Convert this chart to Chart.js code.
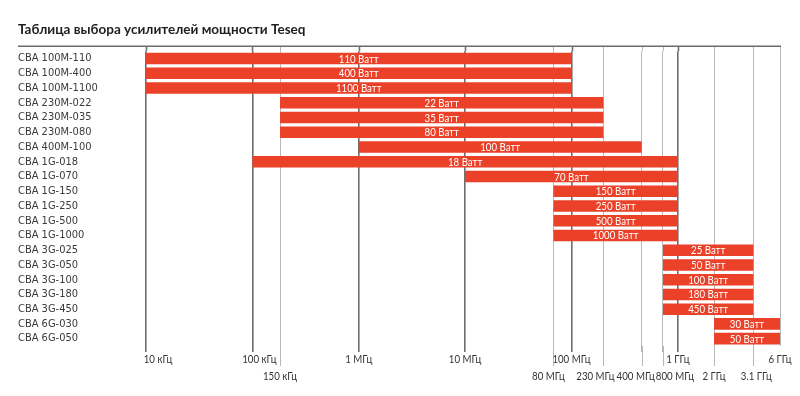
<!DOCTYPE html>
<html>
<head>
<meta charset="utf-8">
<script src="https://cdn.jsdelivr.net/npm/chart.js@4.4.1/dist/chart.umd.min.js"></script>
<style>
  html, body { margin: 0; background: #fff; }
  #wrap { width: 800px; height: 396px; }
</style>
</head>
<body>
<div id="wrap"><canvas id="ampChart"></canvas></div>
<script>
const models = ['CBA 100M-110', 'CBA 100M-400', 'CBA 100M-1100', 'CBA 230M-022', 'CBA 230M-035',
  'CBA 230M-080', 'CBA 400M-100', 'CBA 1G-018', 'CBA 1G-070', 'CBA 1G-150', 'CBA 1G-250',
  'CBA 1G-500', 'CBA 1G-1000', 'CBA 3G-025', 'CBA 3G-050', 'CBA 3G-100', 'CBA 3G-180',
  'CBA 3G-450', 'CBA 6G-030', 'CBA 6G-050'];
// частоты в Гц
const startFreq = [1e4, 1e4, 1e4, 1.5e5, 1.5e5, 1.5e5, 1e6, 1e5, 1e7, 8e7, 8e7, 8e7, 8e7,
  8e8, 8e8, 8e8, 8e8, 8e8, 2e9, 2e9];
const endFreq = [1e8, 1e8, 1e8, 2.3e8, 2.3e8, 2.3e8, 4e8, 1e9, 1e9, 1e9, 1e9, 1e9, 1e9,
  3.1e9, 3.1e9, 3.1e9, 3.1e9, 3.1e9, 6e9, 6e9];
const powerW = [110, 400, 1100, 22, 35, 80, 100, 18, 70, 150, 250, 500, 1000, 25, 50, 100, 180, 450, 30, 50];

const tickFreq = [1e4, 1e5, 1.5e5, 1e6, 1e7, 8e7, 1e8, 2.3e8, 4e8, 8e8, 1e9, 2e9, 3.1e9, 6e9];
const tickLabel = ['10 кГц', '100 кГц', '150 кГц', '1 МГц', '10 МГц', '80 МГц', '100 МГц',
  '230 МГц', '400 МГц', '800 МГц', '1 ГГц', '2 ГГц', '3.1 ГГц', '6 ГГц'];
const topRow = [1e4, 1e5, 1e6, 1e7, 1e8, 1e9, 6e9];
const decades = [1e4, 1e5, 1e6, 1e7, 1e8, 1e9];

// the printed axis is not a true log axis: where each tick sits, in decades from 10 kHz
const tickPlace = [0, 1, 1.26, 2, 3, 3.83, 4, 4.3, 4.66, 4.86, 5, 5.34, 5.71, 5.96];
// small sideways shifts of the tick captions so they don't collide
const labelNudge = { '10 кГц': 12, '100 кГц': 7, '80 МГц': -5, '230 МГц': -8, '400 МГц': -6, '800 МГц': 12, '3.1 ГГц': 3 };

const logStops = tickFreq.map(Math.log10);

function place(v) {
  const l = Math.log10(v);
  let i = 0;
  while (i < logStops.length - 2 && l > logStops[i + 1]) i++;
  const t = (l - logStops[i]) / (logStops[i + 1] - logStops[i]);
  return tickPlace[i] + t * (tickPlace[i + 1] - tickPlace[i]);
}

function unplace(p) {
  let i = 0;
  while (i < tickPlace.length - 2 && p > tickPlace[i + 1]) i++;
  const t = (p - tickPlace[i]) / (tickPlace[i + 1] - tickPlace[i]);
  return Math.pow(10, logStops[i] + t * (logStops[i + 1] - logStops[i]));
}

class StretchedLogScale extends Chart.LogarithmicScale {
  static id = 'stretchedLog';
  static defaults = {};
  getPixelForValue(value) {
    if (value === null || value === undefined || isNaN(value)) return NaN;
    return this.getPixelForDecimal(place(value) / tickPlace[tickPlace.length - 1]);
  }
  getValueForPixel(pixel) {
    return unplace(this.getDecimalForPixel(pixel) * tickPlace[tickPlace.length - 1]);
  }
}
Chart.register(StretchedLogScale);

const FONT = 'Lato, "Open Sans", sans-serif';
const NARROW = '"Liberation Sans Narrow", "DejaVu Sans Condensed", Lato, sans-serif';
const BAR_RED = '#ea4128';
const DARK_LINE = '#6e6e6e';
const LIGHT_LINE = '#b8b8b8';

const isDecade = i => decades.includes(tickFreq[i]);

// the original uses a narrow face, so squeeze Lato a little
function narrowText(ctx, text, x, y) {
  ctx.save();
  ctx.translate(x, y);
  ctx.scale(0.88, 1);
  ctx.fillText(text, 0, 0);
  ctx.restore();
}

const axisExtras = {
  id: 'axisExtras',
  beforeDatasetsDraw(chart) {
    const { ctx, chartArea } = chart;
    const x = chart.scales.x;
    const lineY = chartArea.top - 5;
    ctx.save();
    tickFreq.forEach((f, i) => {
      const px = Math.round(x.getPixelForValue(f)) + 0.5;
      ctx.strokeStyle = isDecade(i) ? DARK_LINE : LIGHT_LINE;
      ctx.lineWidth = isDecade(i) ? 1.6 : 1;
      ctx.beginPath();
      ctx.moveTo(px, lineY);
      ctx.lineTo(px, chartArea.top);
      if (!topRow.includes(f)) {
        ctx.moveTo(px, chartArea.bottom);
        ctx.lineTo(px, chartArea.bottom + 20);
      }
      ctx.stroke();
    });
    ctx.strokeStyle = '#6a6a6a';
    ctx.lineWidth = 1.5;
    ctx.beginPath();
    ctx.moveTo(18, lineY);
    ctx.lineTo(chartArea.right + 1, lineY);
    ctx.stroke();
    ctx.restore();
  },
  afterDraw(chart) {
    const { ctx, chartArea } = chart;
    const x = chart.scales.x;
    ctx.save();
    ctx.font = '11px ' + FONT;
    ctx.fillStyle = '#333';
    ctx.textAlign = 'center';
    ctx.textBaseline = 'middle';
    tickFreq.forEach((f, i) => {
      const label = tickLabel[i];
      const y = chartArea.bottom + (topRow.includes(f) ? 13 : 30);
      narrowText(ctx, label, x.getPixelForValue(f) + (labelNudge[label] || 0), y);
    });
    ctx.restore();
  }
};

const barLabels = {
  id: 'barLabels',
  afterDatasetsDraw(chart) {
    const { ctx } = chart;
    const meta = chart.getDatasetMeta(0);
    ctx.save();
    ctx.font = '11px ' + FONT;
    ctx.fillStyle = '#fff';
    ctx.textAlign = 'center';
    ctx.textBaseline = 'middle';
    meta.data.forEach((bar, i) => {
      const p = bar.getProps(['x', 'y', 'base'], true);
      narrowText(ctx, powerW[i] + ' Ватт', (p.x + p.base) / 2, p.y + 0.5);
    });
    ctx.restore();
  }
};

new Chart(document.getElementById('ampChart'), {
  type: 'bar',
  data: {
    labels: models,
    datasets: [{
      data: models.map((m, i) => [startFreq[i], endFreq[i]]),
      backgroundColor: BAR_RED,
      borderWidth: 0,
      borderSkipped: false,
      barPercentage: 0.9,
      categoryPercentage: 0.87
    }]
  },
  options: {
    indexAxis: 'y',
    responsive: true,
    maintainAspectRatio: false,
    animation: false,
    layout: { padding: { left: 18, right: 20, top: 22, bottom: 44 } },
    plugins: {
      legend: { display: false },
      tooltip: { enabled: false },
      title: {
        display: true,
        text: 'Таблица выбора усилителей мощности Teseq',
        align: 'start',
        color: '#1e1e1e',
        font: { family: FONT, size: 13.5, weight: 'bold' },
        padding: { top: 0, bottom: 13 }
      }
    },
    scales: {
      x: {
        type: 'stretchedLog',
        min: 1e4,
        max: 6e9,
        afterBuildTicks: scale => {
          scale.ticks = tickFreq.map(v => ({ value: v }));
        },
        border: { display: false },
        grid: {
          color: c => isDecade(c.index) ? DARK_LINE : LIGHT_LINE,
          lineWidth: c => isDecade(c.index) ? 1.6 : 1,
          tickColor: c => isDecade(c.index) ? DARK_LINE : (topRow.includes(tickFreq[c.index]) ? 'rgba(0,0,0,0)' : LIGHT_LINE),
          tickLength: 6
        },
        ticks: { display: false }
      },
      y: {
        border: { display: false },
        grid: { display: false },
        afterFit: scale => { scale.width = 128; },
        ticks: {
          autoSkip: false,
          crossAlign: 'far',
          color: '#3a3a3a',
          padding: 0,
          font: { family: NARROW, size: 11 }
        }
      }
    }
  },
  plugins: [axisExtras, barLabels]
});
</script>
</body>
</html>
